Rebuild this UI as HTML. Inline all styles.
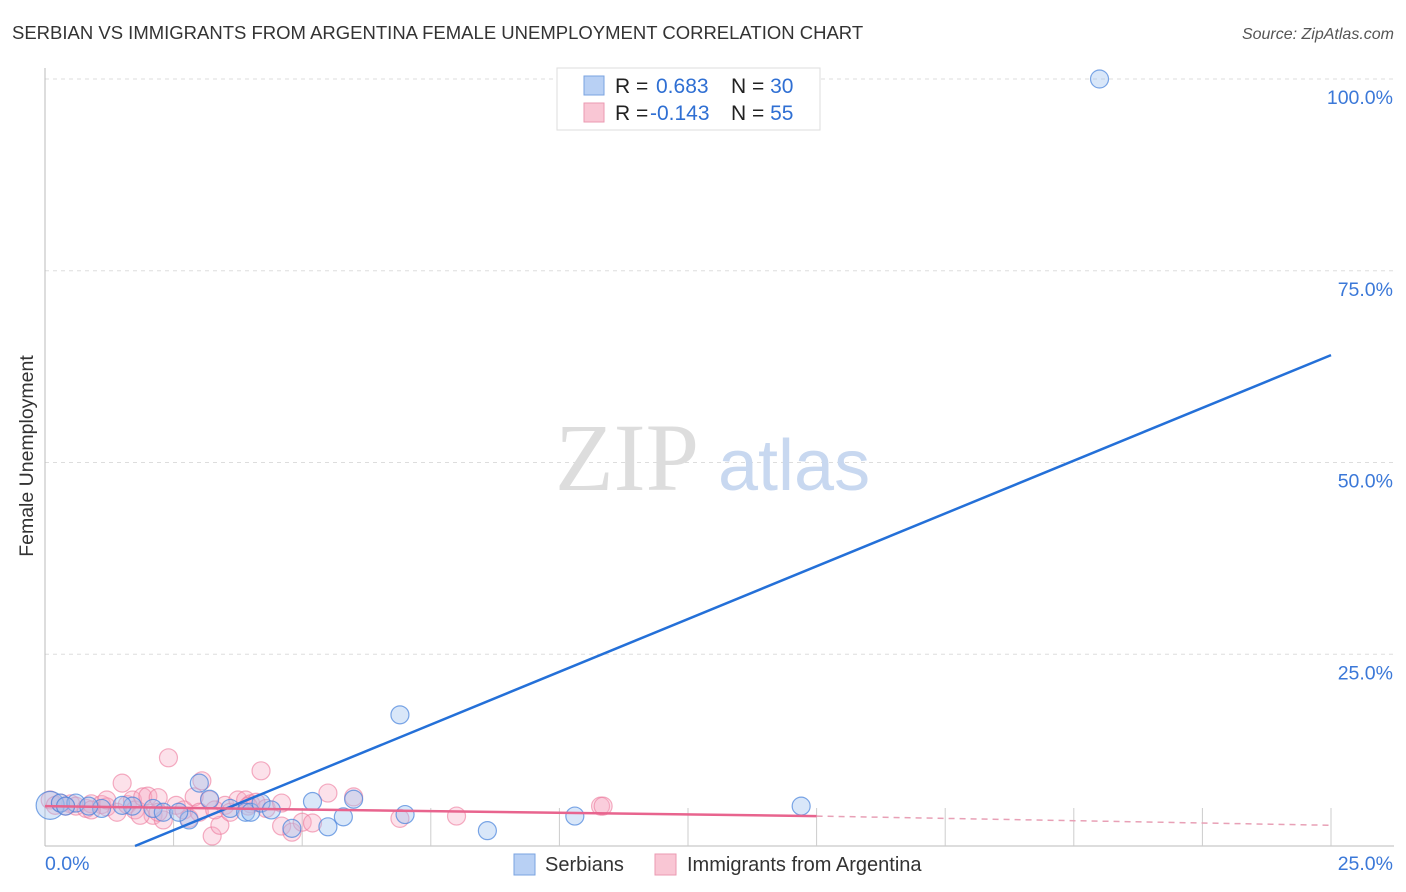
<!DOCTYPE html>
<html><head><meta charset="utf-8"><style>
body{margin:0;background:#fff;font-family:"Liberation Sans",sans-serif;}
svg{display:block}
</style></head><body>
<svg id="chart" width="1406" height="892">
<text x="12" y="39" font-size="18.5" fill="#333">SERBIAN VS IMMIGRANTS FROM ARGENTINA FEMALE UNEMPLOYMENT CORRELATION CHART</text>
<text x="1394" y="39" font-size="16" fill="#555" font-style="italic" text-anchor="end">Source: ZipAtlas.com</text>
<text transform="translate(33,456) rotate(-90)" font-size="19.5" fill="#333" text-anchor="middle">Female Unemployment</text>
<g id="grid"></g>
<text x="555" y="490" font-size="96" fill="#ddd" font-family="Liberation Serif,serif">ZIP</text>
<text x="718" y="490" font-size="72" fill="#c8d8f0">atlas</text>
<g id="marks"></g>
<g>
<rect x="557" y="68" width="263" height="62" fill="#fff" stroke="#ddd"/>
<rect x="584" y="76" width="20" height="19" fill="#b8d0f4" stroke="#7aa3e0"/>
<rect x="584" y="103" width="20" height="19" fill="#f9c6d4" stroke="#eb9ab2"/>
<text x="615" y="93" font-size="21" fill="#222">R = <tspan fill="#2f6fd3" x="656">0.683</tspan><tspan fill="#222" x="731">N = </tspan><tspan fill="#2f6fd3">30</tspan></text>
<text x="615" y="120" font-size="21" fill="#222">R = <tspan fill="#2f6fd3" x="650">-0.143</tspan><tspan fill="#222" x="731">N = </tspan><tspan fill="#2f6fd3">55</tspan></text>
</g>
<g>
<rect x="514" y="854" width="21" height="21" fill="#b8d0f4" stroke="#7aa3e0"/>
<text x="545" y="871" font-size="20" fill="#333">Serbians</text>
<rect x="655" y="854" width="21" height="21" fill="#f9c6d4" stroke="#eb9ab2"/>
<text x="687" y="871" font-size="20" fill="#333">Immigrants from Argentina</text>
</g>
</svg>
<script>
const yTicks=[25,50,75,100];
const xTickLabels=["0.0%","25.0%"];
const serbX=[0.1,0.3,0.6,1.1,1.7,2.1,2.3,2.8,3.0,3.2,3.6,3.9,4.0,4.2,4.4,4.8,5.2,5.5,5.8,6.0,6.9,7.0,8.6,10.3,14.7,20.5,1.5,0.85,2.6,0.4];
const serbY=[5.3,5.6,5.6,4.9,5.2,4.9,4.4,3.4,8.2,6.1,4.9,4.4,4.4,5.6,4.7,2.3,5.8,2.5,3.8,6.1,17.1,4.1,2.0,3.9,5.2,100,5.3,5.2,4.4,5.2];
const argX=[0.1,0.2,0.3,0.5,0.6,0.8,0.9,1.1,1.2,1.4,1.5,1.6,1.7,1.75,1.9,2.0,2.1,2.2,2.3,2.4,2.55,2.7,2.8,2.9,3.0,3.05,3.2,3.25,3.4,3.5,3.6,3.75,3.9,4.0,4.1,4.2,4.3,4.6,4.6,4.8,5.0,5.2,5.5,6.0,6.9,8.0,10.8,10.85,0.9,1.2,1.85,2.2,0.4,3.3,3.95];
const argY=[6.0,5.3,5.6,5.5,5.2,4.9,5.5,5.4,5.1,4.4,8.2,5.4,6.0,4.7,6.4,6.5,4.0,6.3,3.4,11.5,5.3,4.7,3.6,6.4,4.4,8.5,6.0,1.3,2.7,5.3,4.4,6.0,6.0,5.5,5.7,9.8,4.9,5.6,2.6,1.8,3.1,3.0,6.9,6.4,3.6,3.9,5.2,5.2,4.7,6.0,4.0,4.4,5.2,4.7,5.2];
const serbLine=[[1.75,0],[25,64]];
const argLineSolid=[[0,5.2],[15,3.9]];
const argLineDash=[[15,3.9],[25,2.7]];
const X0=45,X1=1331,Y0=846,Y1=79;
const xs=v=>X0+(X1-X0)*v/25, ys=v=>Y0-(Y0-Y1)*v/100;
const NS="http://www.w3.org/2000/svg";
const mk=(t,a,p)=>{const e=document.createElementNS(NS,t);for(const k in a)e.setAttribute(k,a[k]);p.appendChild(e);return e;};
const g=document.getElementById('grid'), m=document.getElementById('marks');
yTicks.forEach(t=>{
 const l=mk('line',{x1:X0,x2:1394,y1:ys(t),y2:ys(t),stroke:'#ddd','stroke-dasharray':'4,4'},g);
 
 
 const tx=mk('text',{x:1393,y:ys(t)+25,'font-size':19.5,fill:'#3b78d8','text-anchor':'end'},g);tx.textContent=t.toFixed(1)+'%';
 
 
});
const ax=mk('line',{x1:X0,x2:X0,y1:68,y2:846,stroke:'#bbb'},g);


const bx=mk('line',{x1:X0,x2:1394,y1:846,y2:846,stroke:'#bbb'},g);


for(let i=1;i<=10;i++){const t=mk('line',{x1:xs(i*2.5),x2:xs(i*2.5),y1:808,y2:846,stroke:'#ccc'},g);
 
 }
[[X0,'start'],[1393,'end']].forEach((p,i)=>{const t=mk('text',{x:p[0],y:870,'font-size':19.5,fill:'#3b78d8','text-anchor':p[1]},g);t.textContent=xTickLabels[i];
 
 });
argX.forEach((x,i)=>{const c=mk('circle',{cx:xs(x),cy:ys(argY[i]),r:9,fill:'rgba(246,170,195,0.35)',stroke:'rgba(236,120,155,0.6)','stroke-width':1.2},m);
 
 });
serbX.forEach((x,i)=>{const c=mk('circle',{cx:xs(x),cy:ys(serbY[i]),r:i==0?14:9,fill:'rgba(160,195,240,0.4)',stroke:'rgba(70,130,220,0.7)','stroke-width':1.2},m);
 
 });
const l1=mk('line',{x1:xs(serbLine[0][0]),y1:ys(serbLine[0][1]),x2:xs(serbLine[1][0]),y2:ys(serbLine[1][1]),stroke:'#2470d8','stroke-width':2.5},m);


const l2=mk('line',{x1:xs(argLineSolid[0][0]),y1:ys(argLineSolid[0][1]),x2:xs(argLineSolid[1][0]),y2:ys(argLineSolid[1][1]),stroke:'#e8648e','stroke-width':2.5},m);


const l3=mk('line',{x1:xs(argLineDash[0][0]),y1:ys(argLineDash[0][1]),x2:xs(argLineDash[1][0]),y2:ys(argLineDash[1][1]),stroke:'#e8a0b6','stroke-width':1.5,'stroke-dasharray':'6,5'},m);


</script>
</body></html>
